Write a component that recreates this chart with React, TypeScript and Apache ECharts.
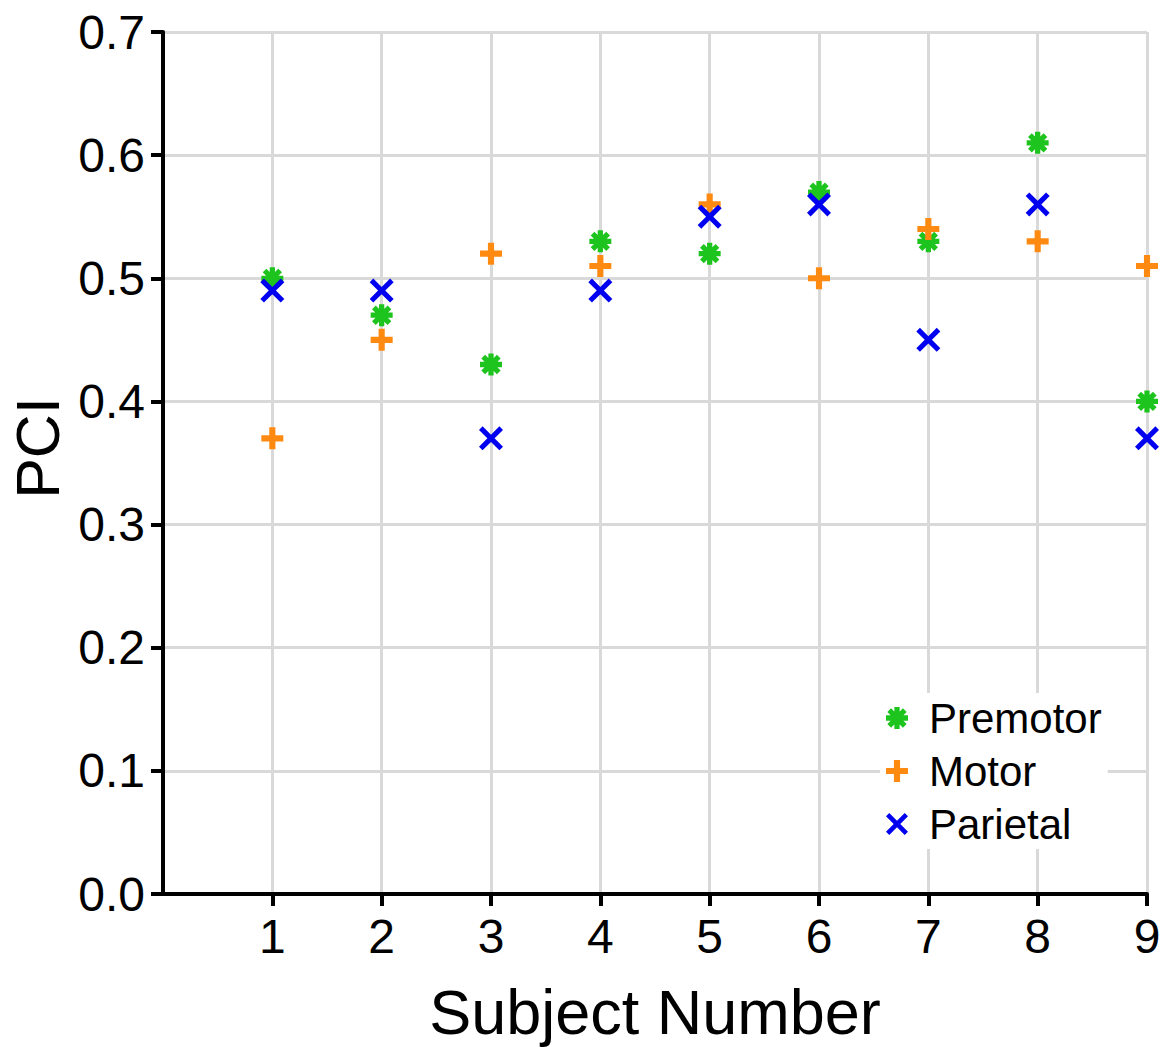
import React, { useEffect, useRef } from "react";
import * as echarts from "echarts";

const subjects = [1, 2, 3, 4, 5, 6, 7, 8, 9];
const premotor = [0.5, 0.47, 0.43, 0.53, 0.52, 0.57, 0.53, 0.61, 0.4];
const motor = [0.37, 0.45, 0.52, 0.51, 0.56, 0.5, 0.54, 0.53, 0.51];
const parietal = [0.49, 0.49, 0.37, 0.49, 0.55, 0.56, 0.45, 0.56, 0.37];
const yTicks = [0, 0.1, 0.2, 0.3, 0.4, 0.5, 0.6, 0.7];

const ASTERISK =
  "path://M0,3.8 L10,3.8 L10,6.2 L0,6.2 Z M3.8,0 L6.2,0 L6.2,10 L3.8,10 Z M2.313,0.615 L9.385,7.687 L7.687,9.385 L0.615,2.313 Z M0.615,7.687 L7.687,0.615 L9.385,2.313 L2.313,9.385 Z";
const PLUS =
  "path://M3.6,0 H6.4 V3.6 H10 V6.4 H6.4 V10 H3.6 V6.4 H0 V3.6 H3.6 Z";
const CROSS =
  "path://M0,1.5 L1.5,0 L5,3.5 L8.5,0 L10,1.5 L6.5,5 L10,8.5 L8.5,10 L5,6.5 L1.5,10 L0,8.5 L3.5,5 Z";

const GREEN = "#1ec41e";
const ORANGE = "#ff8a12";
const BLUE = "#0000f0";
const FONT = "Liberation Sans";

export default function App() {
  const ref = useRef<HTMLDivElement>(null);
  useEffect(() => {
    if (!ref.current) return;
    const chart = echarts.init(ref.current, undefined, { renderer: "svg" });
    const mk = (vals: number[]) => subjects.map((s, i) => [s, vals[i]]);
    chart.setOption({
      animation: false,
      backgroundColor: "#ffffff",
      grid: { left: 163, top: 32, right: 17, bottom: 153, containLabel: false, outerBoundsMode: "none" },
      xAxis: {
        type: "value",
        min: 0,
        max: 9,
        interval: 1,
        axisLine: { show: true, lineStyle: { color: "#000", width: 4 } },
        axisTick: { show: true, length: 12, lineStyle: { color: "#000", width: 4 }, customValues: subjects },
        axisLabel: {
          fontFamily: FONT,
          fontSize: 48,
          color: "#000",
          margin: 18,
          customValues: subjects,
          formatter: (v: number) => String(v),
        },
        splitLine: { show: true, lineStyle: { color: "#d9d9d9", width: 3 } },
      },
      yAxis: {
        type: "value",
        min: 0,
        max: 0.7,
        interval: 0.1,
        axisLine: { show: true, lineStyle: { color: "#000", width: 4 } },
        axisTick: { show: true, length: 12, lineStyle: { color: "#000", width: 4 }, customValues: yTicks },
        axisLabel: {
          fontFamily: FONT,
          fontSize: 48,
          color: "#000",
          margin: 18,
          customValues: yTicks,
          formatter: (v: number) => v.toFixed(1),
        },
        splitLine: { show: true, lineStyle: { color: "#d9d9d9", width: 3 } },
      },
      graphic: [
        {
          type: "text",
          x: 38,
          y: 448,
          rotation: Math.PI / 2,
          style: {
            text: "PCI",
            fontFamily: FONT,
            fontSize: 61,
            fill: "#000",
            textAlign: "center",
            textVerticalAlign: "middle",
          },
        },
        {
          type: "text",
          x: 655,
          y: 1012,
          style: {
            text: "Subject Number",
            fontFamily: FONT,
            fontSize: 63,
            fill: "#000",
            textAlign: "center",
            textVerticalAlign: "middle",
          },
        },
      ],
      legend: {
        orient: "vertical",
        left: 880,
        top: 693,
        backgroundColor: "#ffffff",
        padding: [4, 6, 4, 6],
        itemWidth: 22,
        itemHeight: 22,
        itemGap: 11,
        textStyle: { fontFamily: FONT, fontSize: 42, color: "#000", padding: [0, 0, 0, 16] },
        data: [
          { name: "Premotor", icon: ASTERISK },
          { name: "Motor", icon: PLUS },
          { name: "Parietal", icon: CROSS },
        ],
      },
      series: [
        {
          name: "Premotor",
          type: "scatter",
          symbol: ASTERISK,
          symbolSize: 22,
          clip: false,
          itemStyle: { color: GREEN, opacity: 1 },
          data: mk(premotor),
        },
        {
          name: "Motor",
          type: "scatter",
          symbol: PLUS,
          symbolSize: 22,
          clip: false,
          itemStyle: { color: ORANGE, opacity: 1 },
          data: mk(motor),
        },
        {
          name: "Parietal",
          type: "scatter",
          symbol: CROSS,
          symbolSize: 24,
          clip: false,
          itemStyle: { color: BLUE, opacity: 1 },
          data: mk(parietal),
        },
      ],
    });
    return () => chart.dispose();
  }, []);
  return (
    <div
      ref={ref}
      style={{ position: "fixed", left: 0, top: 0, width: 1164, height: 1047, background: "#fff" }}
    />
  );
}
